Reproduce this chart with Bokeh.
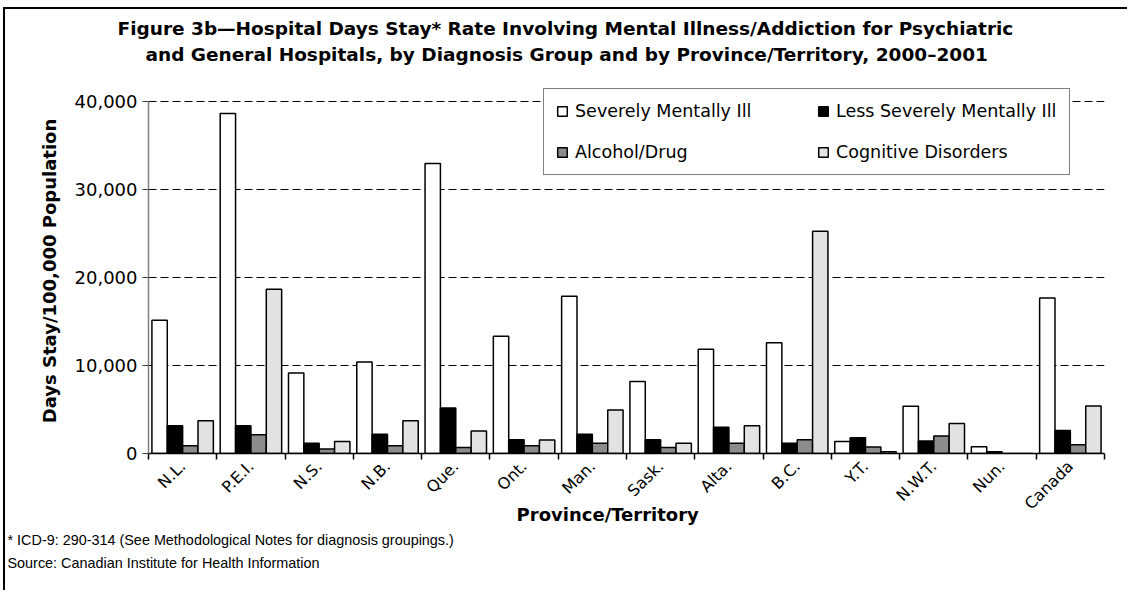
import math
from bokeh.plotting import figure
from bokeh.models import (Range1d, FixedTicker, NumeralTickFormatter, ColumnDataSource,
                          Legend, LegendItem, Title)
from bokeh.transform import dodge
from bokeh.embed import file_html
from bokeh.resources import INLINE

# ---------------- data ----------------
categories = ["N.L.", "P.E.I.", "N.S.", "N.B.", "Que.", "Ont.", "Man.", "Sask.",
              "Alta.", "B.C.", "Y.T.", "N.W.T.", "Nun.", "Canada"]
severely_mentally_ill = [15150, 38700, 9150, 10400, 33000, 13350, 17900, 8200,
                         11850, 12600, 1370, 5380, 760, 17700]
less_severely_mentally_ill = [3170, 3170, 1180, 2180, 5190, 1560, 2180, 1560,
                              3000, 1180, 1790, 1410, 190, 2620]
alcohol_drug = [880, 2140, 500, 880, 690, 880, 1180, 690, 1180, 1560, 730, 1980, 0, 990]
cognitive_disorders = [3740, 18700, 1370, 3740, 2560, 1530, 4960, 1180, 3170, 25300,
                       190, 3400, 0, 5400]
series_names = ["Severely Mentally Ill", "Less Severely Mentally Ill",
                "Alcohol/Drug", "Cognitive Disorders"]
y_ticks = [0, 10000, 20000, 30000, 40000]
y_max = 40000

title_line1 = "Figure 3b\u2014Hospital Days Stay* Rate Involving Mental Illness/Addiction for Psychiatric"
title_line2 = "and General Hospitals, by Diagnosis Group and by Province/Territory, 2000\u20132001"
x_title = "Province/Territory"
y_title = "Days Stay/100,000 Population"
footnote = "* ICD-9: 290-314 (See Methodological Notes for diagnosis groupings.)"
source_note = "Source: Canadian Institute for Health Information"

# ---------------- build ----------------
n = len(categories)
centers = [i + 0.5 for i in range(n)]
src = ColumnDataSource(dict(x=centers, smi=severely_mentally_ill,
                            lsmi=less_severely_mentally_ill,
                            alc=alcohol_drug, cog=cognitive_disorders))

W, H = 1124, 583
p = figure(width=W, height=H, output_backend="svg", toolbar_location=None,
           x_range=Range1d(0, n), y_range=Range1d(0, y_max * 1.0384),
           min_border_left=143, min_border_right=25, min_border_top=79,
           min_border_bottom=139)
p.styles = {"margin-left": "3px", "margin-top": "7px",
            "border-left": "2px solid black", "border-top": "2px solid black"}
p.outline_line_color = None
p.background_fill_color = "white"
p.border_fill_color = "white"

bw = 0.225
fills = ["white", "black", "#8c8c8c", "#e2e2e2"]
cols = ["smi", "lsmi", "alc", "cog"]
offsets = [-1.5 * bw, -0.5 * bw, 0.5 * bw, 1.5 * bw]
renderers = []
for col, off, fc in zip(cols, offsets, fills):
    r = p.vbar(x=dodge("x", off, range=p.x_range), top=col, width=bw, bottom=0,
               source=src, fill_color=fc, line_color="black", line_width=1.5)
    renderers.append(r)

# axes
xa = p.xaxis[0]
xa.ticker = FixedTicker(ticks=centers, minor_ticks=list(range(n + 1)))
xa.major_label_overrides = {c: lab for c, lab in zip(centers, categories)}
xa.major_tick_line_color = None
xa.minor_tick_out = 6
xa.minor_tick_in = 0
xa.minor_tick_line_color = "black"
xa.minor_tick_line_width = 1.5
xa.axis_line_color = "black"
xa.axis_line_width = 1.5
xa.major_label_orientation = math.pi / 4
xa.major_label_text_font = "DejaVu Sans"
xa.major_label_text_font_size = "16px"
xa.major_label_text_color = "black"
xa.major_label_standoff = 4
xa.axis_label = x_title + "\u00a0" * 6
xa.axis_label_text_font = "DejaVu Sans"
xa.axis_label_text_font_style = "bold"
xa.axis_label_text_font_size = "18px"
xa.axis_label_text_color = "black"
xa.axis_label_standoff = -19

ya = p.yaxis[0]
ya.ticker = FixedTicker(ticks=y_ticks)
ya.bounds = (0, y_max)
ya.formatter = NumeralTickFormatter(format="0,0")
ya.axis_line_color = "#808080"
ya.axis_line_width = 1.5
ya.major_tick_out = 6
ya.major_tick_in = 0
ya.major_tick_line_color = "#404040"
ya.minor_tick_line_color = None
ya.major_label_text_font = "DejaVu Sans"
ya.major_label_text_font_size = "18px"
ya.major_label_text_color = "black"
ya.major_label_standoff = 5
ya.axis_label = y_title
ya.axis_label_text_font = "DejaVu Sans"
ya.axis_label_text_font_style = "bold"
ya.axis_label_text_font_size = "18px"
ya.axis_label_text_color = "black"
ya.axis_label_standoff = 12

p.xgrid.grid_line_color = None
p.ygrid.grid_line_color = "black"
p.ygrid.grid_line_dash = "8 4"
p.ygrid.grid_line_width = 1

# legend (column-major fill, so this order gives the reference's two rows)
order = [0, 2, 1, 3]
legend = Legend(items=[LegendItem(label=series_names[i], renderers=[renderers[i]]) for i in order],
                ncols=2, location=(395, 278),
                glyph_width=12, glyph_height=12, label_height=20, label_width=221,
                label_standoff=7, spacing=21, padding=12, margin=0,
                border_line_color="black", border_line_width=1.5,
                background_fill_color="white", background_fill_alpha=1.0,
                label_text_font="DejaVu Sans", label_text_font_size="17.5px",
                label_text_color="black")
p.add_layout(legend)

# titles (above: first added is closest to the frame)
p.add_layout(Title(text=" ", text_font_size="18.5px", standoff=0), "above")
p.add_layout(Title(text=title_line2, align="left", offset=-3, text_font="DejaVu Sans",
                   text_font_style="bold", text_font_size="18.5px", text_color="black",
                   standoff=2), "above")
p.add_layout(Title(text=title_line1, align="left", offset=-31, text_font="DejaVu Sans",
                   text_font_style="bold", text_font_size="18.5px", text_color="black",
                   standoff=4), "above")

# notes below
p.add_layout(Title(text=footnote, align="left", offset=-141, text_font="Liberation Sans",
                   text_font_style="normal", text_font_size="14.4px", text_color="black",
                   standoff=5), "below")
p.add_layout(Title(text=source_note, align="left", offset=-141, text_font="Liberation Sans",
                   text_font_style="normal", text_font_size="14.4px", text_color="black",
                   standoff=5), "below")

open("out.html", "w").write(file_html(p, INLINE))
